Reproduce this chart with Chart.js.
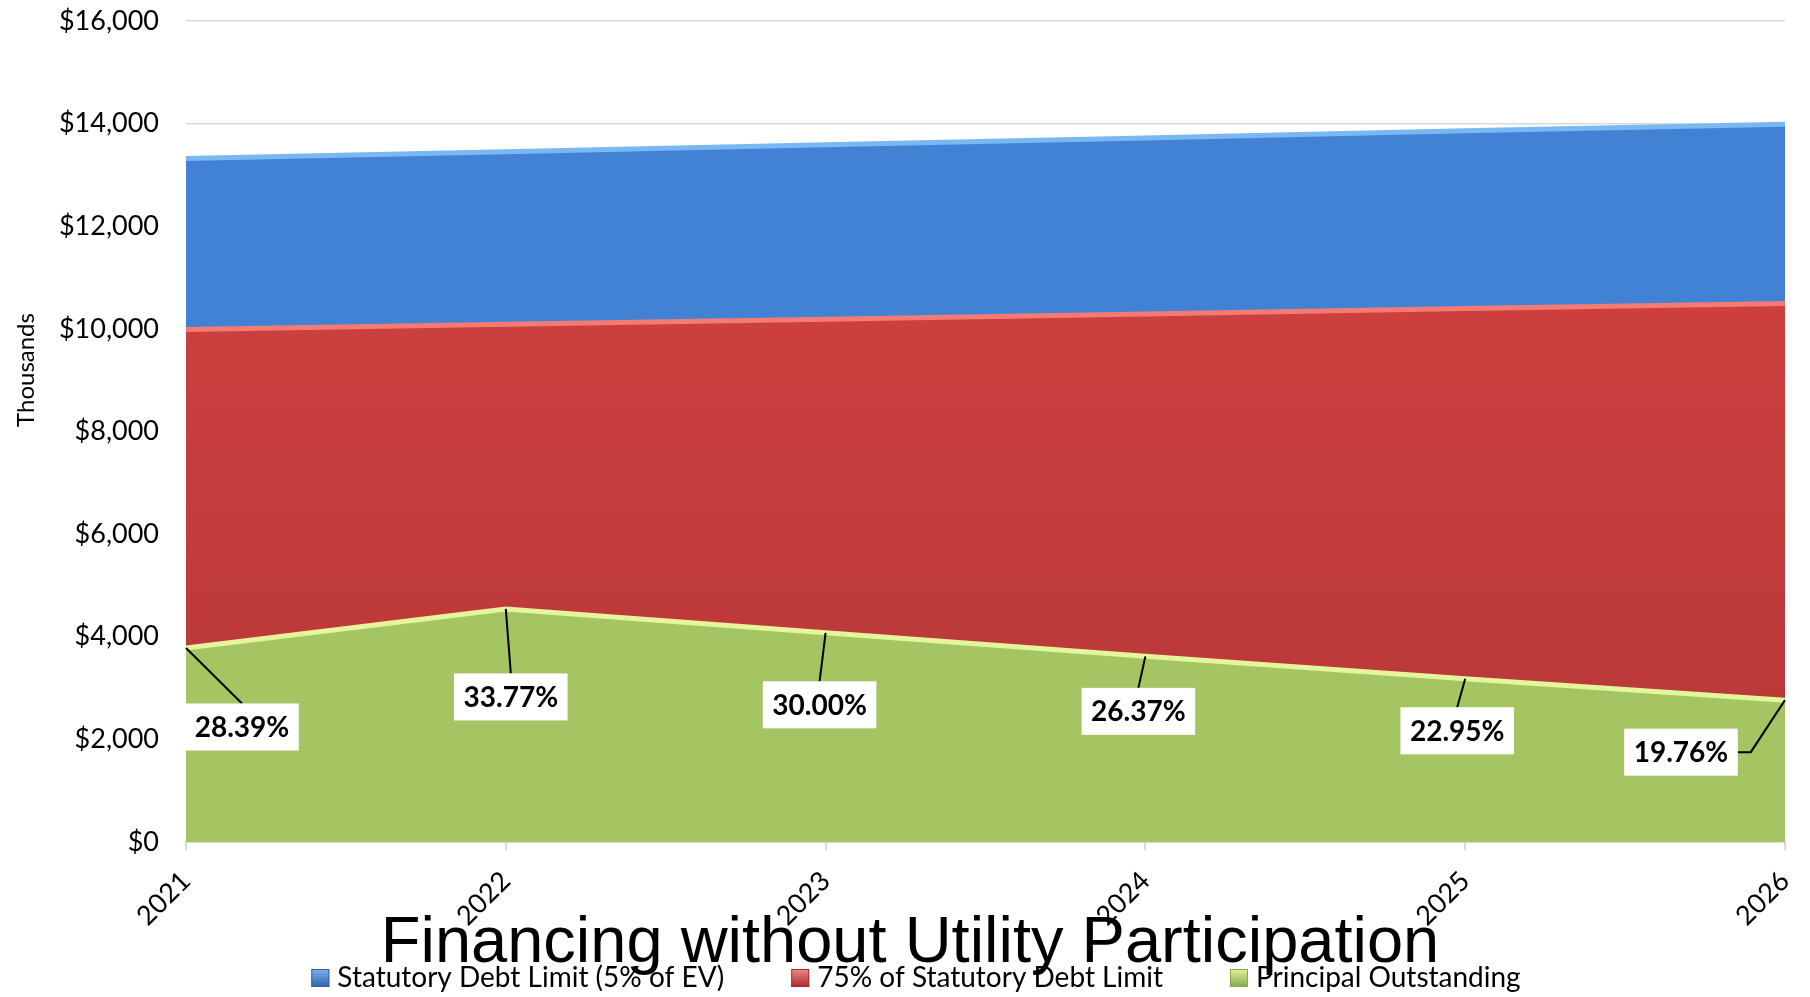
<!DOCTYPE html>
<html>
<head>
<meta charset="utf-8">
<title>Financing without Utility Participation</title>
<script src="https://cdn.jsdelivr.net/npm/chart.js@4.4.1/dist/chart.umd.min.js"></script>
<style>
  html, body { margin: 0; padding: 0; background: #fff; }
</style>
</head>
<body>
<canvas id="myChart" width="1810" height="997"></canvas>
<script>
'use strict';
// values in thousands of dollars
let years = ['2021', '2022', '2023', '2024', '2025', '2026'];
let statutoryLimit = [13320, 13450, 13590, 13720, 13860, 13990];
let limit75 = [9990, 10090, 10190, 10290, 10395, 10493];
let principal = [3781, 4542, 4077, 3618, 3181, 2764];
let ratioLabels = ['28.39%', '33.77%', '30.00%', '26.37%', '22.95%', '19.76%'];
let seriesNames = ['Statutory Debt Limit (5% of EV)', '75% of Statutory Debt Limit', 'Principal Outstanding'];
let chartTitle = 'Financing without Utility Participation';
let yTitle = 'Thousands';

// where each % box sits relative to its point (px)
let labelOffsets = [[56, 79], [5, 88], [-6, 72], [-7, 55], [-8, 52], [-104, 52]];

const tickFont = { family: 'Lato', size: 27 };

function vGradient(top, bottom) {
    return function (context) {
        const { ctx, chartArea } = context.chart;
        if (!chartArea) return top;
        let g = ctx.createLinearGradient(0, chartArea.top, 0, chartArea.bottom);
        g.addColorStop(0, top);
        g.addColorStop(1, bottom);
        return g;
    };
}

const ratioPlugin = {
    id: 'ratioLabels',
    afterDatasetsDraw(chart) {
        const ctx = chart.ctx;
        const meta = chart.getDatasetMeta(0);
        ctx.save();
        ctx.font = 'bold 28px Lato';
        meta.data.forEach((pt, i) => {
            const text = ratioLabels[i];
            const w = ctx.measureText(text).width + 19;
            const h = 47;
            const cx = pt.x + labelOffsets[i][0];
            const cy = pt.y + labelOffsets[i][1];
            ctx.strokeStyle = '#000';
            ctx.lineWidth = 2;
            ctx.beginPath();
            ctx.moveTo(pt.x, pt.y);
            if (cx + w / 2 < pt.x) {
                ctx.lineTo(cx + w / 2 + 13, cy);
                ctx.lineTo(cx + w / 2, cy);
            } else {
                ctx.lineTo(cx, cy - h / 2);
            }
            ctx.stroke();
            ctx.fillStyle = '#fff';
            ctx.fillRect(cx - w / 2, cy - h / 2, w, h);
            ctx.fillStyle = '#000';
            ctx.textAlign = 'center';
            ctx.textBaseline = 'middle';
            ctx.fillText(text, cx, cy + 1);
        });
        ctx.restore();
    }
};

const legendColors = [
    ['#7db3ee', '#2f62ad'],
    ['#f08a84', '#a82c2c'],
    ['#e2f29a', '#86a84a']
];

const textPlugin = {
    id: 'titleAndLegend',
    afterDraw(chart) {
        const ctx = chart.ctx;
        ctx.save();
        // axis title
        ctx.translate(26, 370);
        ctx.rotate(-Math.PI / 2);
        ctx.font = '24px Lato';
        ctx.fillStyle = '#000';
        ctx.textAlign = 'center';
        ctx.textBaseline = 'middle';
        ctx.fillText(yTitle, 0, 0);
        ctx.restore();

        ctx.save();
        ctx.font = '65px "Liberation Sans"';
        ctx.fillStyle = '#000';
        ctx.textAlign = 'center';
        ctx.textBaseline = 'alphabetic';
        ctx.fillText(chartTitle, 910, 962);

        // legend
        ctx.font = '28px Lato';
        const box = 18, gap = 8, spacing = 67;
        const widths = seriesNames.map(s => box + gap + ctx.measureText(s).width);
        const total = widths.reduce((a, b) => a + b, 0) + spacing * (widths.length - 1);
        let x = 916 - total / 2;
        ctx.textAlign = 'left';
        ctx.textBaseline = 'middle';
        seriesNames.forEach((s, i) => {
            let g = ctx.createLinearGradient(0, 969, 0, 987);
            g.addColorStop(0, legendColors[i][0]);
            g.addColorStop(1, legendColors[i][1]);
            ctx.fillStyle = g;
            ctx.fillRect(x, 969, box, box);
            ctx.strokeStyle = legendColors[i][1];
            ctx.lineWidth = 1;
            ctx.strokeRect(x + 0.5, 969.5, box - 1, box - 1);
            ctx.fillStyle = '#000';
            ctx.fillText(s, x + box + gap, 978);
            x += widths[i] + spacing;
        });
        ctx.restore();
    }
};

let ctx = document.getElementById('myChart').getContext('2d');
let myChart = new Chart(ctx, {
    type: 'line',
    data: {
        labels: years,
        datasets: [
            {
                label: seriesNames[2],
                data: principal,
                fill: 'origin',
                backgroundColor: '#a5c563',
                borderColor: '#e4f59c',
                borderWidth: 5,
                pointRadius: 0,
                tension: 0
            },
            {
                label: seriesNames[1],
                data: limit75,
                fill: 'origin',
                backgroundColor: vGradient('#dc4444', '#b33737'),
                borderColor: '#f37b73',
                borderWidth: 5,
                pointRadius: 0,
                tension: 0
            },
            {
                label: seriesNames[0],
                data: statutoryLimit,
                fill: 'origin',
                backgroundColor: '#4282d4',
                borderColor: '#7ab8f3',
                borderWidth: 5,
                pointRadius: 0,
                tension: 0
            }
        ]
    },
    options: {
        responsive: false,
        animation: false,
        devicePixelRatio: 1,
        layout: { padding: { left: 0, right: 25, top: 21, bottom: 65 } },
        plugins: {
            legend: { display: false },
            title: { display: false },
            tooltip: { enabled: false }
        },
        scales: {
            x: {
                grid: { drawOnChartArea: false, drawTicks: true, tickLength: 8, color: '#d9d9d9', lineWidth: 2 },
                border: { color: '#d9d9d9', width: 2 },
                ticks: { minRotation: 45, maxRotation: 45, padding: 15, font: tickFont, color: '#000' },
                afterFit: (scale) => {
                    scale.height = 90;
                    scale.paddingLeft = 0;
                    scale.paddingRight = 0;
                }
            },
            y: {
                min: 0,
                max: 16000,
                grid: { color: '#d9d9d9', lineWidth: 1.5, drawTicks: false },
                border: { display: false },
                ticks: {
                    stepSize: 2000,
                    padding: 27,
                    font: tickFont,
                    color: '#000',
                    callback: (v) => '$' + v.toLocaleString('en-US')
                },
                afterFit: (scale) => {
                    scale.width = 186;
                    scale.paddingTop = 0;
                    scale.paddingBottom = 0;
                }
            }
        }
    },
    plugins: [ratioPlugin, textPlugin]
});
</script>
</body>
</html>
